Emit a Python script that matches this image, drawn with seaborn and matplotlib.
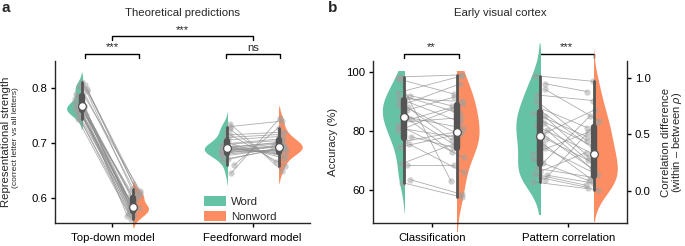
import matplotlib
matplotlib.use("Agg")
import matplotlib.pyplot as plt
import matplotlib.transforms as mtransforms
from matplotlib.patches import Patch, Rectangle
import numpy as np
import pandas as pd
import seaborn as sns

sns.set_style("ticks")
plt.rcParams["font.family"] = ["Liberation Sans", "DejaVu Sans"]
plt.rcParams["mathtext.fontset"] = "custom"
plt.rcParams["mathtext.it"] = "Liberation Sans:italic"
plt.rcParams["font.size"] = 8.2

conditions = ["Word", "Nonword"]
palette = {"Word": "#66c2a5", "Nonword": "#fc8d62"}

# panel a: theoretical predictions (one value per subject)
models = ["Top-down model", "Feedforward model"]
td_word = [0.81, 0.806, 0.803, 0.8, 0.798, 0.795, 0.79, 0.785, 0.78, 0.775, 0.772, 0.77, 0.768, 0.767,
           0.766, 0.765, 0.764, 0.763, 0.762, 0.761, 0.76, 0.758, 0.757, 0.755, 0.753, 0.751, 0.748, 0.744]
td_nonword = [0.616, 0.61, 0.613, 0.608, 0.604, 0.606, 0.6, 0.602, 0.598, 0.595, 0.589, 0.592, 0.587, 0.585,
              0.584, 0.583, 0.58, 0.582, 0.581, 0.577, 0.579, 0.575, 0.574, 0.572, 0.57, 0.567, 0.565, 0.562]
ff_word = [0.735, 0.645, 0.73, 0.725, 0.72, 0.715, 0.71, 0.706, 0.702, 0.699, 0.697, 0.695, 0.693, 0.692,
           0.691, 0.69, 0.689, 0.688, 0.687, 0.686, 0.685, 0.683, 0.681, 0.679, 0.676, 0.672, 0.668, 0.66]
ff_nonword = [0.65, 0.745, 0.74, 0.665, 0.658, 0.72, 0.716, 0.712, 0.672, 0.708, 0.705, 0.677, 0.702, 0.7,
              0.68, 0.698, 0.683, 0.696, 0.695, 0.685, 0.694, 0.687, 0.693, 0.689, 0.692, 0.69, 0.691, 0.728]

# panel b: early visual cortex
measures = ["Classification", "Pattern correlation"]
cls_word = [98.3, 97.5, 93, 92, 91.5, 91, 90.5, 89.5, 88.5, 88, 87, 86, 85, 84.5,
            84, 83, 82, 81, 80, 78, 76.5, 75.5, 74.5, 68.8, 68.5, 63.5, 62.5, 98]
cls_nonword = [99, 92.5, 98.5, 88.5, 86, 90, 83, 79.5, 96, 77, 91.5, 75, 81, 73,
               89, 84.5, 71, 78, 87.5, 74.5, 80, 66, 79, 76, 68.5, 58.5, 57.5, 63]
pat_word = [1.02, 0.95, 0.9, 0.85, 0.8, 0.74, 0.71, 0.69, 0.66, 0.63, 0.6, 0.58, 0.54, 0.5,
            0.48, 0.46, 0.42, 0.38, 0.33, 0.28, 0.25, 0.2, 0.17, 0.15, 0.14, 0.12, 0.10, 0.08]
pat_nonword = [0.97, 0.88, 0.62, 0.8, 0.44, 0.56, 0.37, 0.48, 0.3, 0.4, 0.23, 0.32, 0.17, 0.2,
               0.72, 0.27, 0.11, 0.14, 0.52, 0.09, 0.66, 0.12, 0.34, 0.05, 0.07, 0.03, 0.6, 0.01]

box_color = "#555555"
np.random.seed(3)


def raincloud(ax, word, nonword, pos_word, pos_non, width, clip_top=1e6):
    df = pd.DataFrame({
        "pos": [pos_word] * len(word) + [pos_non] * len(nonword),
        "value": list(word) + list(nonword),
        "condition": ["Word"] * len(word) + ["Nonword"] * len(nonword),
    })
    n0 = len(ax.collections)
    sns.violinplot(data=df, x="pos", y="value", hue="condition", hue_order=conditions, palette=palette,
                   inner=None, native_scale=True, orient="x", dodge=False, width=width,
                   linewidth=0, saturation=1, legend=False, ax=ax)
    # keep only the outer half of each violin (word -> left, nonword -> right)
    for c in ax.collections[n0:]:
        xs = np.concatenate([p.vertices[:, 0] for p in c.get_paths()])
        if abs(xs.mean() - pos_word) < abs(xs.mean() - pos_non):
            rect = Rectangle((pos_word - 5, -1e6), 5, 1e6 + clip_top, transform=ax.transData)
        else:
            rect = Rectangle((pos_non, -1e6), 5, 1e6 + clip_top, transform=ax.transData)
        c.set_clip_path(rect)

    # box + median on the flat side of each half
    nl = len(ax.lines)
    sns.violinplot(data=df, x="pos", y="value", native_scale=True, orient="x", width=width,
                   fill=False, linewidth=0, color=box_color, linecolor=box_color, inner="box",
                   inner_kws=dict(box_width=4.6, whis_width=2.0, marker="o"), ax=ax)
    for ln in ax.lines[nl:]:
        if len(ln.get_xdata()) == 1:
            ln.set_marker("o")
            ln.set_markersize(5.6)
            ln.set_markerfacecolor("white")
            ln.set_markeredgecolor(box_color)
            ln.set_markeredgewidth(0.9)
            ln.set_zorder(6)
        else:
            ln.set_zorder(4.5)

    n1 = len(ax.collections)
    sns.stripplot(data=df, x="pos", y="value", native_scale=True, orient="x", color="#a0a0a0",
                  size=4.5, alpha=0.5, jitter=0.14, linewidth=0, zorder=4, ax=ax)
    strips = sorted(ax.collections[n1:], key=lambda c: c.get_offsets()[:, 0].mean())
    pw, pn = strips[0].get_offsets(), strips[1].get_offsets()
    for (xw, yw), (xn, yn) in zip(pw, pn):
        ax.plot([xw, xn], [yw, yn], color="#8c8c8c", lw=0.6, alpha=0.7, zorder=3)
    ax.set_xlabel("")
    ax.set_ylabel("")


def bracket(ax, x0, x1, y, label, drop=0.024):
    trans = mtransforms.blended_transform_factory(ax.transData, ax.transAxes)
    ax.plot([x0, x0, x1, x1], [y - drop, y, y, y - drop], color="black", lw=1,
            transform=trans, clip_on=False)
    ax.annotate(label, xy=((x0 + x1) / 2, y), xycoords=trans, xytext=(0, 2.5),
                textcoords="offset points", ha="center", va="baseline", fontsize=8.2)


fig = plt.figure(figsize=(6.85, 2.46), dpi=100)
ax_a = fig.add_axes([55 / 685, 23 / 246, 255 / 685, 162 / 246])
ax_b = fig.add_axes([373 / 685, 23 / 246, 254 / 685, 162 / 246])
ax_b2 = ax_b.twinx()

# panel a
raincloud(ax_a, td_word, td_nonword, -0.22, 0.15, 0.58)
raincloud(ax_a, ff_word, ff_nonword, 0.82, 1.19, 0.89)
ax_a.set_xlim(-0.41, 1.41)
ax_a.set_ylim(0.555, 0.849)
ax_a.set_yticks([0.6, 0.7, 0.8])
ax_a.set_xticks([0, 1])
ax_a.set_xticklabels(models)
sns.despine(ax=ax_a)
ax_a.legend(handles=[Patch(facecolor=palette[c], edgecolor="none", label=c) for c in conditions],
            loc="lower left", bbox_to_anchor=(0.585, 0.005), frameon=False, handlelength=1.9,
            handleheight=1.0, labelspacing=0.4, handletextpad=0.45, borderpad=0, borderaxespad=0,
            fontsize=8.2)
bracket(ax_a, -0.193, 0.186, 1.043, "***")
bracket(ax_a, 0.814, 1.193, 1.043, "ns")
bracket(ax_a, 0.0, 1.0, 1.154, "***")

# panel b
raincloud(ax_b, cls_word, cls_nonword, -0.2, 0.185, 0.84, clip_top=100.2)
raincloud(ax_b2, pat_word, pat_nonword, 0.79, 1.185, 0.88)
ax_b.set_xlim(-0.43, 1.43)
ax_b.set_ylim(48.8, 103.7)
ax_b.set_yticks([60, 80, 100])
ax_b2.set_ylim(-0.283, 1.15)
ax_b2.set_yticks([0.0, 0.5, 1.0])
ax_b2.set_yticklabels(["0.0", "0.5", "1.0"])
ax_b.set_xticks([0, 1])
ax_b.set_xticklabels(measures)
ax_b.spines["top"].set_visible(False)
ax_b.spines["right"].set_visible(False)
for s in ["top", "left", "bottom"]:
    ax_b2.spines[s].set_visible(False)
bracket(ax_b, -0.205, 0.2, 1.043, "**")
bracket(ax_b, 0.785, 1.19, 1.043, "***")

for ax in (ax_a, ax_b, ax_b2):
    for s in ax.spines.values():
        s.set_linewidth(1.0)
    ax.tick_params(length=3, width=1, pad=2.5, labelsize=8.2, colors="black")
ax_a.tick_params(axis="x", pad=4)
ax_b.tick_params(axis="x", pad=4)

# titles, labels, panel letters
fig.text(182.5 / 685, 1 - 13 / 246, "Theoretical predictions", ha="center", va="center", fontsize=8.2)
fig.text(500 / 685, 1 - 13 / 246, "Early visual cortex", ha="center", va="center", fontsize=8.2)
fig.text(6 / 685, 1 - 142 / 246, "Representational strength", rotation=90, ha="center", va="center",
         fontsize=8.2)
fig.text(15.5 / 685, 1 - 138 / 246, "(correct letter vs all letters)", rotation=90, ha="center",
         va="center", fontsize=6.1)
fig.text(333 / 685, 1 - 142 / 246, "Accuracy (%)", rotation=90, ha="center", va="center", fontsize=8.2)
fig.text(666 / 685, 1 - 142 / 246, "Correlation difference", rotation=90, ha="center", va="center",
         fontsize=8.2)
fig.text(677.5 / 685, 1 - 142 / 246, "(within – between $\\it{\\rho}$)", rotation=90, ha="center",
         va="center", fontsize=8.0)
fig.text(1 / 685, 1 - 12 / 246, "a", fontsize=11, fontweight="bold", va="baseline")
fig.text(328 / 685, 1 - 12 / 246, "b", fontsize=11, fontweight="bold", va="baseline")

fig.savefig("out.png", dpi=100)
